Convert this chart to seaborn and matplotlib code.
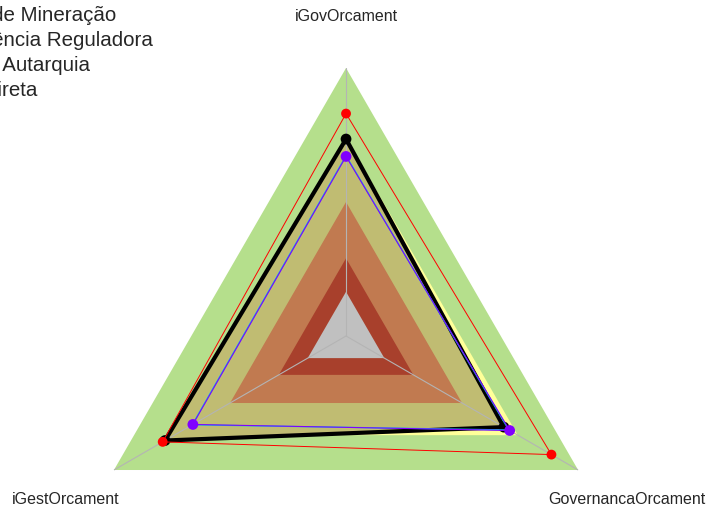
import numpy as np
import matplotlib
matplotlib.use('Agg')
import matplotlib.pyplot as plt
import seaborn as sns
from matplotlib.lines import Line2D

# eixos do radar (sentido horario a partir do topo)
eixos = ['iGovOrcament', 'GovernancaOrcament', 'iGestOrcament']

# series (escala 0-1)
nomes = ['Agência Nacional de Mineração',
         'Média por Tipo Agência Reguladora',
         'Média da Adm Ind. Autarquia',
         'Média Adm Púb. Direta']
anm = [0.83, 0.885, 0.79]
reguladora = [0.67, 0.705, 0.66]
autarquia = [0.673, 0.701, 0.663]
adm_direta = [0.735, 0.68, 0.78]

# faixas de referencia
faixas = [1.0, 0.74, 0.5, 0.29, 0.165]
cores_faixas = ['#b5df8c', '#ffff99', '#c17a50', '#a8402c', '#c0c0c0']

sns.set_style('white')
plt.rcParams['font.family'] = ['Liberation Sans', 'DejaVu Sans']

theta = np.linspace(0, 2 * np.pi, len(eixos) + 1)

def fechar(v):
    return list(v) + [v[0]]

fig = plt.figure(figsize=(7.08, 5.11), dpi=100)
ax = fig.add_axes([0.1102, -0.182, 0.7571, 1.0489], projection='polar')
ax.set_theta_offset(np.pi / 2)
ax.set_theta_direction(-1)
ax.set_ylim(0, 1)

# faixas externas
ax.fill(theta, [faixas[0]] * 4, color=cores_faixas[0], lw=0, zorder=1)
ax.fill(theta, [faixas[1]] * 4, color=cores_faixas[1], lw=0, zorder=1)
# area da serie preta
ax.fill(theta, fechar(adm_direta), color='#c0bc72', lw=0, zorder=1)
for nivel, cor in zip(faixas[2:], cores_faixas[2:]):
    ax.fill(theta, [nivel] * 4, color=cor, lw=0, zorder=1)

# linhas dos eixos
for t in theta[:-1]:
    ax.plot([t, t], [0, 1], color='#b4b4b4', lw=0.8, zorder=1.5)

series = [
    (adm_direta, 'black', 3.0, 60, 3),
    (autarquia, '#00c8e0', 0.9, 0, 4),
    (reguladora, '#8000ff', 0.8, 60, 5),
    (anm, 'red', 0.7, 50, 6),
]
for vals, cor, lw, s, z in series:
    sns.lineplot(x=theta, y=fechar(vals), sort=False, estimator=None,
                 color=cor, linewidth=lw, ax=ax, zorder=z)
    if s:
        sns.scatterplot(x=theta[:-1], y=vals, color=cor, s=s,
                        edgecolor='none', ax=ax, zorder=z + 0.1)

ax.set_xlabel('')
ax.set_ylabel('')
ax.set_xticks([])
ax.set_yticks([])
ax.grid(False)
ax.spines['polar'].set_visible(False)
ax.patch.set_alpha(0)

# rotulos dos eixos
pos_rotulos = [(0.0, 1.192), (np.deg2rad(120.2), 1.212), (np.deg2rad(239.7), 1.21)]
for (t, r), nome in zip(pos_rotulos, eixos):
    ax.text(t, r, nome, ha='center', va='center', fontsize=11.5, clip_on=False)

handles = [Line2D([], [], color=c, marker='o', lw=1.5) for c in ['red', '#8000ff', '#00c8e0', 'black']]
fig.legend(handles, nomes, loc='upper left', bbox_to_anchor=(-0.325, 0.9885),
           frameon=False, fontsize=14.8, borderpad=0, borderaxespad=0,
           handlelength=2, handletextpad=0.8, labelspacing=0.30)

plt.savefig('out.png', dpi=100)
plt.close()
